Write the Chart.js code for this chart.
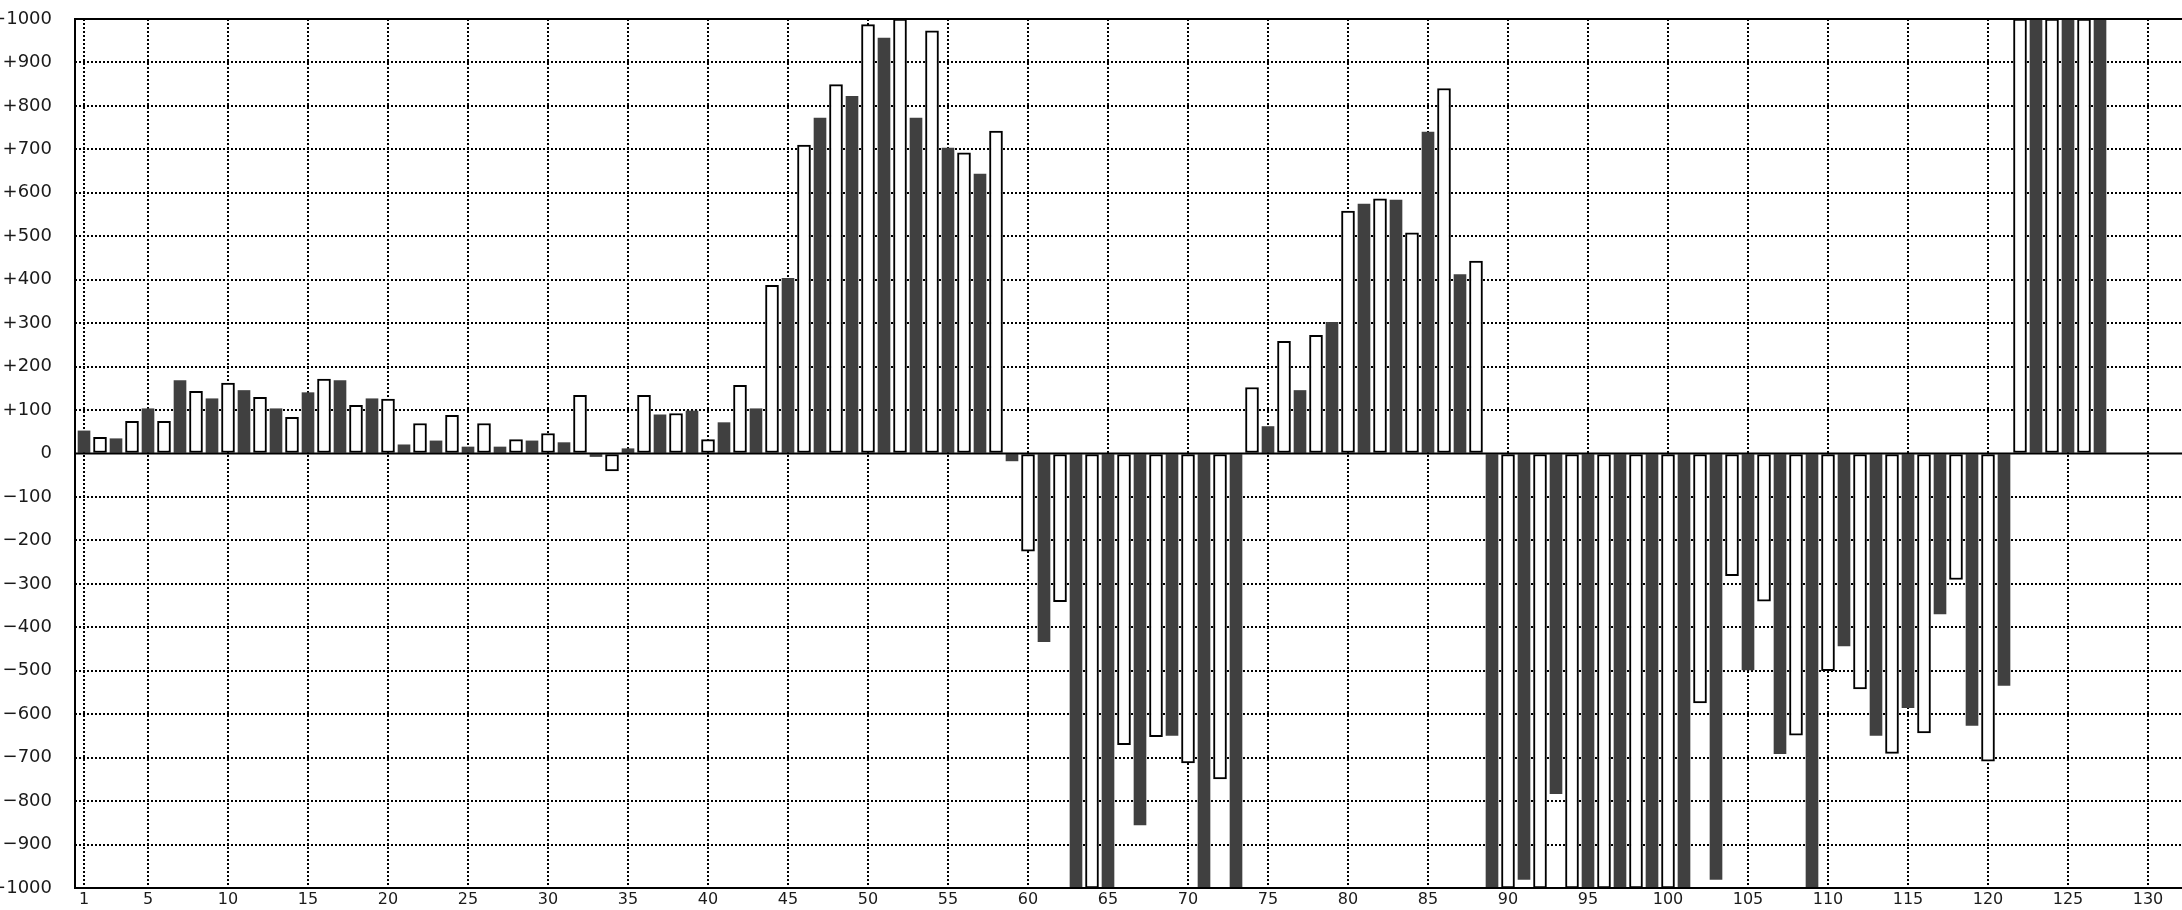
<!DOCTYPE html>
<html>
<head>
<meta charset="utf-8">
<script src="https://cdn.jsdelivr.net/npm/chart.js@4/dist/chart.umd.min.js"></script>
<style>
  html, body { margin: 0; padding: 0; background: #fff; }
  #wrap { width: 2182px; height: 910px; }
</style>
</head>
<body>
<div id="wrap"><canvas id="myChart" width="2182" height="910"></canvas></div>
<script>
// solid (dark) bars sit on the odd positions 1,3,...,127
var solidValues = [52, 34, 103, 168, 126, 145, 103, 140, 168, 126,
    20, 29, 15, 15, 29, 25, -7, 11, 89, 98,
    71, 103, 403, 772, 822, 956, 772, 703, 643, -17,
    -433, -1000, -1000, -855, -649, -1000, -1000, 62, 145, 302,
    574, 583, 740, 412, -1000, -980, -783, -1000, -1000, -1000,
    -1000, -980, -498, -691, -1000, -443, -649, -585, -369, -626,
    -534, 1000, 1000, 1000];
// hollow (white) bars sit on the even positions 2,4,...,126
var hollowValues = [37, 74, 74, 143, 162, 129, 83, 171, 111, 125,
    69, 88, 69, 32, 46, 134, -40, 134, 92, 32,
    157, 387, 710, 849, 987, 1000, 973, 692, 742, -225,
    -341, -1000, -670, -652, -712, -749, 152, 258, 272, 558,
    586, 508, 840, 443, -1000, -1000, -1000, -1000, -1000, -1000,
    -574, -281, -340, -648, -500, -542, -690, -643, -290, -708,
    1000, 1000, 1000];
var xTicks = [1, 5, 10, 15, 20, 25, 30, 35, 40, 45, 50, 55, 60, 65, 70,
    75, 80, 85, 90, 95, 100, 105, 110, 115, 120, 125, 130];
var yMin = -1000, yMax = 1000, yStep = 100;

function points(values, first) {
    return values.map(function (v, i) { return {x: first + 2 * i, y: v}; });
}

var framePlugin = {
    id: 'frame',
    afterDatasetsDraw: function (chart) {
        var ctx = chart.ctx, a = chart.chartArea;
        var z = chart.scales.y.getPixelForValue(0);
        ctx.save();
        ctx.strokeStyle = '#000';
        ctx.lineWidth = 2;
        ctx.beginPath();
        ctx.moveTo(a.left, a.top); ctx.lineTo(a.right, a.top);
        ctx.moveTo(a.left, z); ctx.lineTo(a.right, z);
        ctx.moveTo(a.left, a.bottom); ctx.lineTo(a.right, a.bottom);
        ctx.moveTo(a.left, a.top - 1); ctx.lineTo(a.left, a.bottom + 1);
        ctx.stroke();
        ctx.restore();
    }
};

var ctx = document.getElementById("myChart").getContext("2d");

var myBarChart = new Chart(ctx, {
    type: 'bar',
    data: {
        datasets: [
            {
                data: points(solidValues, 1),
                backgroundColor: '#404040',
                borderWidth: 0,
                barThickness: 12,
                grouped: false,
                clip: 0
            }, {
                data: points(hollowValues, 2),
                backgroundColor: '#ffffff',
                borderColor: '#000000',
                borderWidth: 2,
                borderSkipped: false,
                barThickness: 13,
                grouped: false,
                clip: 0
            }
        ]
    },
    options: {
        responsive: false,
        animation: false,
        layout: {padding: {top: 19, right: 0, left: 0, bottom: 0}},
        plugins: {legend: {display: false}, tooltip: {enabled: false}},
        scales: {
            x: {
                type: 'linear',
                offset: false,
                min: 0.4375,
                max: 132.125,
                afterBuildTicks: function (scale) {
                    scale.ticks = xTicks.map(function (v) { return {value: v}; });
                },
                afterFit: function (scale) {
                    scale.height = 22;
                    scale.paddingLeft = 0;
                    scale.paddingRight = 0;
                },
                ticks: {
                    autoSkip: false,
                    maxRotation: 0,
                    padding: 2,
                    color: '#1a1a1a',
                    font: {family: "DejaVu Sans", size: 16},
                    callback: function (v) { return String(v); }
                },
                grid: {color: '#000', lineWidth: 2, drawTicks: false, offset: false},
                border: {display: false, dash: [2, 2]}
            },
            y: {
                min: yMin,
                max: yMax,
                afterFit: function (scale) {
                    scale.width = 75;
                    scale.paddingTop = 0;
                    scale.paddingBottom = 0;
                },
                ticks: {
                    stepSize: yStep,
                    padding: 23,
                    color: '#1a1a1a',
                    font: {family: "DejaVu Sans", size: 18},
                    callback: function (v) {
                        if (v > 0) return '+' + v;
                        if (v < 0) return '\u2212' + Math.abs(v);
                        return '0';
                    }
                },
                grid: {
                    drawTicks: false,
                    lineWidth: 2,
                    color: function (c) {
                        return (c.tick && c.tick.value === 0) ? 'rgba(0,0,0,0)' : '#000';
                    }
                },
                border: {display: false, dash: [2, 2]}
            }
        }
    },
    plugins: [framePlugin]
});
</script>
</body>
</html>
